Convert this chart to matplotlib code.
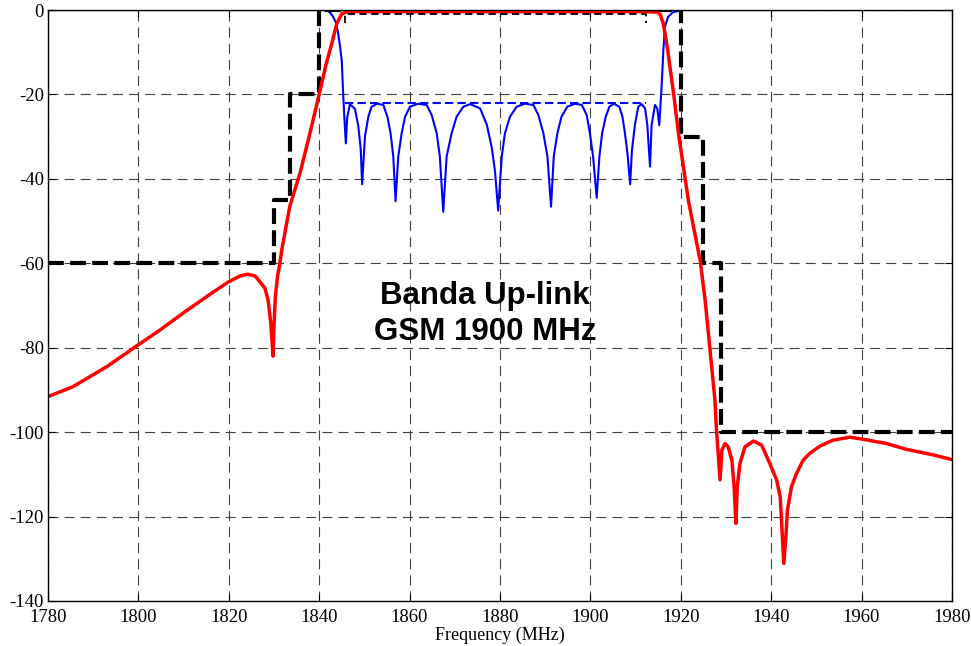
import matplotlib
matplotlib.use("Agg")
import matplotlib.pyplot as plt

# Frequency axis / tick settings
x_ticks = [1780, 1800, 1820, 1840, 1860, 1880, 1900, 1920, 1940, 1960, 1980]
y_ticks = [0, -20, -40, -60, -80, -100, -120, -140]

# Transmission response S21 (dB)
s21_freq = [1780, 1785.6, 1793.0, 1799.6, 1804.8, 1809.9, 1815.1, 1819.8, 1822.5, 1824.2,
            1825.8, 1826.9, 1828.0, 1828.7, 1829.3, 1829.8, 1830.0, 1830.3, 1830.8, 1831.3,
            1831.7, 1833.5, 1835.8, 1838.0, 1840.0, 1841.5, 1842.8, 1843.9, 1845.0, 1846.0,
            1848.0, 1880.0, 1912.0, 1914.9, 1915.5, 1916.1, 1916.9, 1918.4, 1919.5, 1921.7,
            1924.3, 1925.4, 1927.56, 1927.9, 1928.7, 1929.1, 1929.8, 1930.5, 1931.3, 1931.8,
            1932.2, 1932.5, 1933.1, 1934.2, 1936.1, 1937.9, 1939.7, 1941.2, 1942.0, 1942.8,
            1943.3, 1943.6, 1944.5, 1945.6, 1947.1, 1948.6, 1950.8, 1953.7, 1957.4, 1960.4,
            1965.5, 1970.0, 1975.9, 1980.0]
s21_db = [-91.6, -89.2, -84.5, -79.6, -75.8, -71.8, -67.9, -64.5, -63.0, -62.6,
          -63.0, -64.4, -65.9, -68.7, -74.2, -82.0, -75.0, -68.0, -63.0, -60.0,
          -57.0, -46.5, -38.5, -29.0, -20.0, -13.0, -7.9, -3.2, -0.9, -0.5,
          -0.4, -0.4, -0.4, -0.5, -1.2, -3.1, -7.9, -19.7, -29.3, -45.2,
          -59.4, -68.8, -92.4, -99.5, -111.3, -104.2, -102.7, -103.5, -106.6, -112.9,
          -121.6, -112.9, -107.4, -103.5, -102.1, -103.1, -107.4, -111.3, -115.3, -131.1,
          -124.0, -118.5, -112.9, -109.8, -106.6, -105.0, -103.3, -101.9, -101.2, -101.7,
          -102.7, -104.1, -105.4, -106.5]

# Reflection response S11 (dB)
s11_freq = [1780, 1841.6, 1842.3, 1843.1, 1843.7, 1844.2, 1844.6, 1845.0, 1845.3, 1845.6,
            1845.9, 1846.2, 1846.8, 1847.9, 1848.65, 1849.2, 1849.5,
            1850.13, 1850.87, 1851.6, 1852.85, 1854.2, 1855.1, 1855.8, 1856.4, 1856.9,
            1857.5, 1858.25, 1859.0, 1860.1, 1861.9, 1863.8, 1864.9, 1866.0, 1866.7, 1867.45,
            1868.2, 1869.3, 1870.4, 1871.9, 1873.4, 1875.6, 1877.1, 1878.2, 1878.9, 1879.6,
            1880.4, 1881.1, 1882.2, 1883.7, 1885.5, 1887.4, 1888.5, 1889.6, 1890.5, 1891.3,
            1891.9, 1892.7, 1893.6, 1894.9, 1896.6, 1898.1, 1899.2, 1899.9, 1900.6, 1901.4,
            1902.0, 1902.6, 1903.4, 1904.2, 1905.2, 1906.4, 1907.1, 1907.65, 1908.2, 1908.8,
            1909.2, 1909.9, 1910.6, 1911.35, 1912.1, 1912.6, 1913.2,
            1913.55, 1914.3, 1914.8, 1915.25,
            1915.8, 1916.15, 1916.5, 1917.2, 1918.3, 1920.5, 1980]
s11_db = [0.0, 0.0, -0.5, -1.6, -3.0, -5.5, -8.5, -12.0, -19.7, -26.0,
          -31.6, -25.5, -22.3, -23.4, -27.4, -33.0, -41.3,
          -30.0, -25.3, -22.9, -22.2, -22.5, -25.3, -29.2, -34.7, -45.3,
          -34.7, -29.2, -25.3, -22.9, -22.2, -22.5, -24.9, -29.2, -34.7, -47.8,
          -34.7, -29.2, -25.3, -22.9, -22.3, -23.3, -27.2, -32.7, -38.2, -47.5,
          -34.7, -29.2, -25.3, -22.9, -22.2, -22.5, -24.9, -29.2, -34.7, -46.6,
          -34.7, -29.2, -25.3, -22.9, -22.2, -22.5, -24.9, -29.2, -34.7, -44.5,
          -34.7, -29.2, -25.3, -22.9, -22.2, -22.9, -25.3, -29.2, -33.9, -41.3,
          -33.2, -26.9, -22.9, -22.3, -23.3, -27.2, -37.1,
          -27.2, -22.5, -23.3, -27.3,
          -17.4, -9.5, -4.0, -1.6, -0.5, 0.0, 0.0]

# Rejection mask (dB)
mask_freq = [1780, 1830, 1830, 1833.5, 1833.5, 1840, 1840, 1920, 1920, 1925, 1925, 1929, 1929, 1980]
mask_db = [-60, -60, -45, -45, -20, -20, 0, 0, -30, -30, -60, -60, -100, -100]

# Passband insertion-loss and return-loss limits (dB)
il_freq = [1845.7, 1845.7, 1912.3, 1912.3]
il_db = [-3.0, -1.0, -1.0, -3.0]
rl_freq = [1845.7, 1912.3]
rl_db = [-22.0, -22.0]

plt.rcParams["font.family"] = ["Liberation Serif", "DejaVu Serif"]
plt.rcParams["axes.unicode_minus"] = False

fig = plt.figure(figsize=(9.71, 6.46), dpi=100)
ax = fig.add_axes([0.0494, 0.0697, 0.9310, 0.9148])

ax.plot(s11_freq, s11_db, color="#0000ff", lw=1.5, zorder=3)
ax.plot(rl_freq, rl_db, color="#0000ff", lw=1.5, linestyle=(0, (4, 2)), zorder=3)
ax.plot(mask_freq, mask_db, color="black", lw=3.0, linestyle=(0, (3.8, 1.5)), zorder=4)
ax.plot(s21_freq, s21_db, color="#ff0000", lw=2.5, zorder=5)
ax.plot(il_freq, il_db, color="black", lw=1.3, linestyle=(0, (4, 2.5)), zorder=6)

ax.text(1876.7, -72, "Banda Up-link\nGSM 1900 MHz", ha="center", va="center",
        fontsize=22.5, fontweight="bold", family=["Liberation Sans", "DejaVu Sans"],
        linespacing=1.27, zorder=7)

ax.set_xlim(1780, 1980)
ax.set_ylim(-140, 0)
ax.set_xticks(x_ticks)
ax.set_yticks(y_ticks)
ax.tick_params(direction="in", length=5, width=0.8, top=True, right=True, labelsize=13.5)
ax.tick_params(axis="x", pad=6)
ax.tick_params(axis="y", pad=3)
ax.grid(True, color="0.25", lw=0.8, linestyle=(0, (9, 5.5)))
ax.set_axisbelow(True)
for s in ax.spines.values():
    s.set_linewidth(1.0)
    s.set_zorder(10)
ax.set_xlabel("Frequency (MHz)", fontsize=13, labelpad=0)

fig.savefig("out.png", dpi=100)
